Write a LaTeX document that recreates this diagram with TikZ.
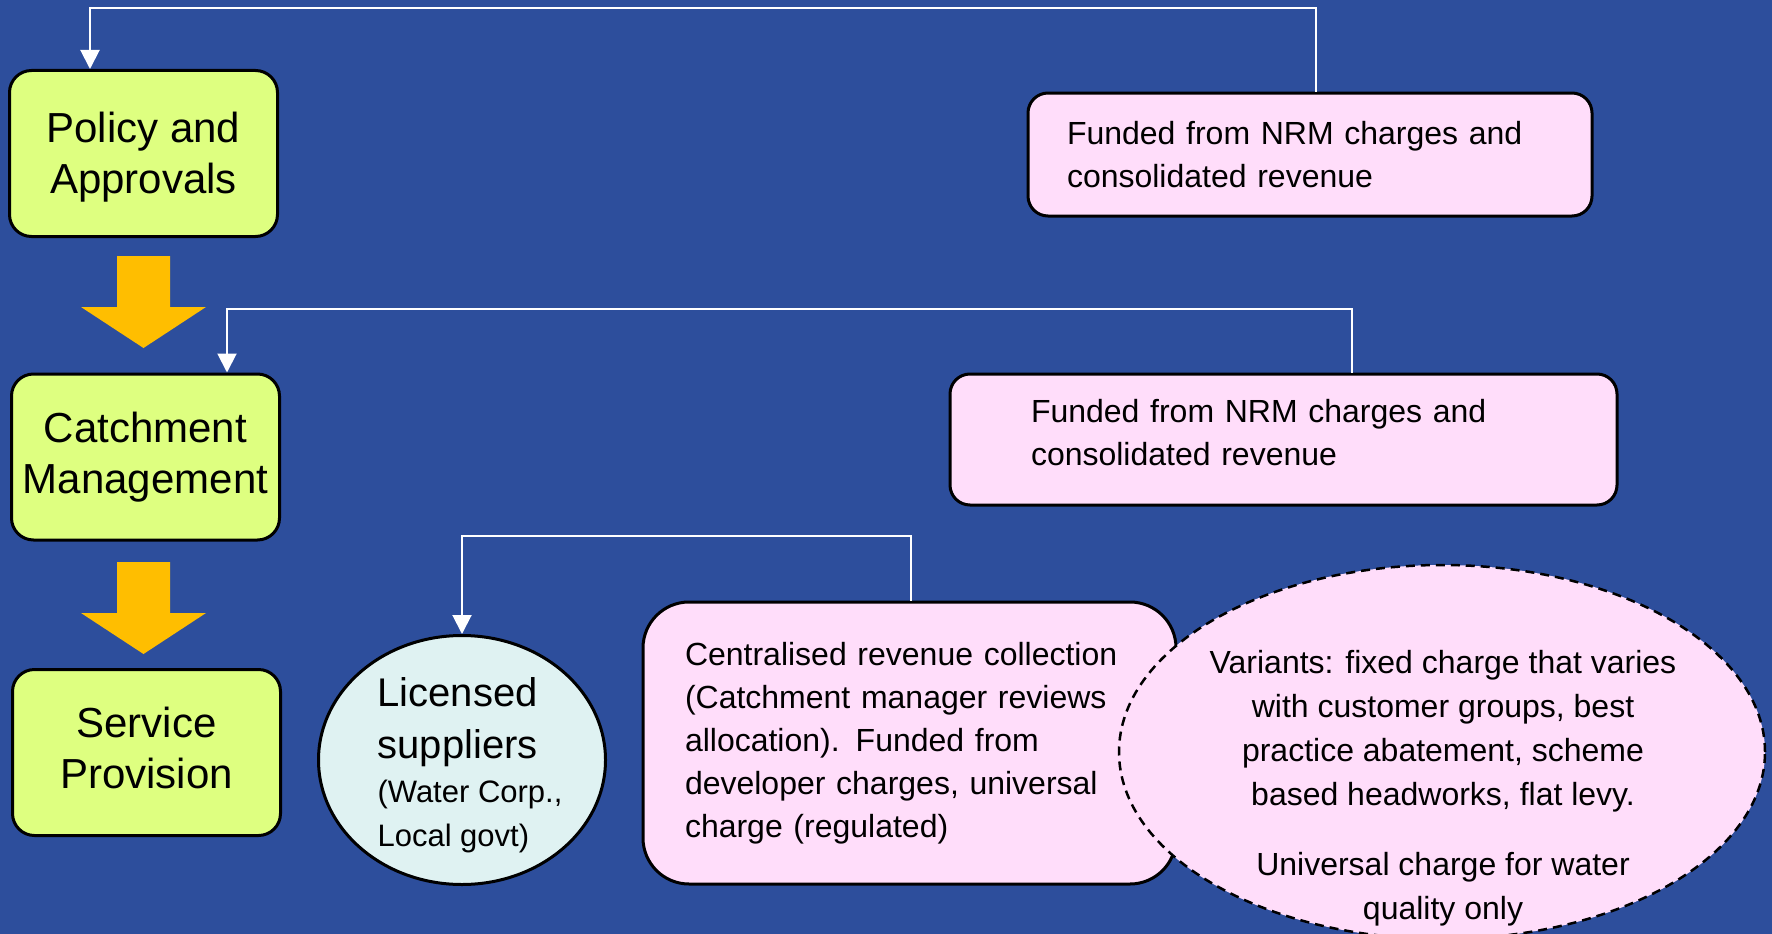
\documentclass[tikz,border=0pt]{standalone}
\usepackage{fontspec}
\setmainfont{Liberation Sans}
\usepackage{xcolor}
\usetikzlibrary{arrows.meta,shapes.geometric}

\definecolor{bgblue}{RGB}{45,78,156}
\definecolor{stagegreen}{RGB}{222,255,128}
\definecolor{fundpink}{RGB}{255,221,250}
\definecolor{supplycyan}{RGB}{223,242,242}
\definecolor{flowgold}{RGB}{255,190,0}

\begin{document}
\begin{tikzpicture}[x=1pt,y=-1pt,
 stage/.style={draw=black,line width=3pt,fill=stagegreen,rounded corners=22pt,
  minimum width=268pt,minimum height=166pt,align=center,font=\fontsize{42}{51}\selectfont},
 fund/.style={draw=black,line width=3pt,fill=fundpink,rounded corners=20pt,
  align=left,font=\fontsize{32}{43}\selectfont},
 link/.style={draw=white,line width=2pt,-{Triangle[width=19pt,length=19pt]}}]

\useasboundingbox (0,0) rectangle (1772,934);
\clip (0,0) rectangle (1772,934);
\fill[bgblue] (0,0) rectangle (1772,934);

% stages
\node[stage,text depth=2pt] (policy) at (143.5,153.5) {Policy and\\Approvals};
\node[stage] (catch) at (145.5,457) {Catchment\\Management};
\node[stage,text depth=9pt] (serv) at (146.5,752.5) {Service\\Provision};

\foreach \y in {256,562}
 \fill[flowgold] (117,\y) -- (170,\y) -- (170,\y+51) -- (206,\y+51)
  -- (143.5,\y+92) -- (81,\y+51) -- (117,\y+51) -- cycle;

% funding
\node[fund,text width=486pt,inner xsep=39pt,minimum height=123pt] (fund1) at (1310,154.5)
 {Funded from NRM charges and\\consolidated revenue};
\node[fund,text width=505pt,inner xsep=81pt,minimum height=131pt,text depth=57pt] (fund2) at (1283.5,439.5)
 {Funded from NRM charges and\\consolidated revenue};
\node[fund,text width=449pt,inner xsep=42pt,minimum height=282pt,rounded corners=46pt] (cent) at (909.5,743)
 {Centralised revenue collection\\(Catchment manager reviews\\allocation). Funded from\\developer charges, universal\\charge (regulated)};

% suppliers
\node[ellipse,draw=black,line width=3pt,fill=supplycyan,inner sep=0pt,
 minimum width=287pt,minimum height=249pt] (lic) at (462,760) {};
\node[align=left,inner sep=0pt,font=\fontsize{31}{44}\selectfont] (lictext) at ([xshift=8pt,yshift=-5pt]lic.center)
 {{\fontsize{40}{48}\selectfont Licensed}\\[8pt]{\fontsize{40}{48}\selectfont suppliers}\\(Water Corp.,\\Local govt)};

% variants
\node[ellipse,draw=black,line width=2.5pt,dash pattern=on 9pt off 6pt,fill=fundpink,inner sep=0pt,
 minimum width=646pt,minimum height=374pt] (var) at (1442,752) {};
\node[align=center,inner sep=0pt,anchor=north,font=\fontsize{32}{44}\selectfont] (vartext) at (1443,650)
 {Variants: fixed charge that varies\\with customer groups, best\\practice abatement, scheme\\based headworks, flat levy.\\[26pt]Universal charge for water\\quality only};

% links
\coordinate (c1r) at (1316,8); \coordinate (c1l) at (90,8);
\coordinate (c2r) at (1352,309); \coordinate (c2l) at (227,309);
\coordinate (c3r) at (911,536); \coordinate (c3l) at (462,536);
\draw[link] (fund1.north -| c1r) -- (c1r) -- (c1l) -- (c1l |- policy.north);
\draw[link] (fund2.north -| c2r) -- (c2r) -- (c2l) -- (c2l |- catch.north);
\draw[link] (cent.north -| c3r) -- (c3r) -- (c3l) -- (c3l |- lic.north);

\end{tikzpicture}
\end{document}
